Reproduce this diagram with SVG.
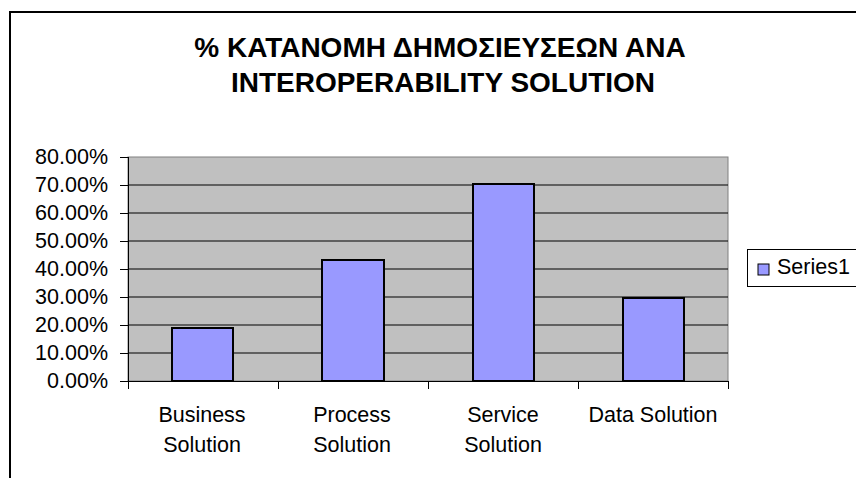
<svg xmlns="http://www.w3.org/2000/svg" width="856" height="478" viewBox="0 0 856 478">
<style>
text{font-family:"Liberation Sans",Arial,sans-serif;fill:#000}
.title{font-size:28px;font-weight:bold;text-anchor:middle}
.ylab{font-size:21.5px;text-anchor:end}
.xlab{font-size:21.5px;text-anchor:middle}
.grid{stroke:#000;stroke-width:1}
.bar{fill:#9999FF;stroke:#000;stroke-width:2}
.axis{stroke:#000;stroke-width:1;fill:none}
</style>
<rect x="0" y="0" width="856" height="478" fill="#fff"/>
<rect id="frame" x="10" y="12" width="860" height="480" fill="none" stroke="#000" stroke-width="2"/>
<g id="title">
<text class="title" x="440" y="57">% ΚΑΤΑΝΟΜΗ ΔΗΜΟΣΙΕΥΣΕΩΝ ΑΝΑ</text>
<text class="title" x="443" y="92">INTEROPERABILITY SOLUTION</text>
</g>
<g id="plot">
<rect x="128" y="157" width="600" height="224" fill="#C0C0C0" stroke="#808080" stroke-width="1"/>
<g class="grid">
<line x1="128" y1="185" x2="728" y2="185"/>
<line x1="128" y1="213" x2="728" y2="213"/>
<line x1="128" y1="241" x2="728" y2="241"/>
<line x1="128" y1="269" x2="728" y2="269"/>
<line x1="128" y1="297" x2="728" y2="297"/>
<line x1="128" y1="325" x2="728" y2="325"/>
<line x1="128" y1="353" x2="728" y2="353"/>
</g>
</g>
<g id="bars">
<rect id="bar-business" class="bar" x="172" y="328" width="61" height="53"/>
<rect id="bar-process" class="bar" x="322" y="260" width="62" height="121"/>
<rect id="bar-service" class="bar" x="473" y="184" width="61" height="197"/>
<rect id="bar-data" class="bar" x="623" y="298" width="61" height="83"/>
</g>
<g id="axes" class="axis">
<path d="M128.5 157V381.5H728"/>
<path d="M120 157.5H128M120 185.5H128M120 213.5H128M120 241.5H128M120 269.5H128M120 297.5H128M120 325.5H128M120 353.5H128M120 381.5H128"/>
<path d="M128.5 381V389M278.5 381V389M428.5 381V389M578.5 381V389M728.5 381V389"/>
</g>
<g id="ylabels">
<text class="ylab" x="108" y="164">80.00%</text>
<text class="ylab" x="108" y="192">70.00%</text>
<text class="ylab" x="108" y="220">60.00%</text>
<text class="ylab" x="108" y="248">50.00%</text>
<text class="ylab" x="108" y="276">40.00%</text>
<text class="ylab" x="108" y="304">30.00%</text>
<text class="ylab" x="108" y="332">20.00%</text>
<text class="ylab" x="108" y="360">10.00%</text>
<text class="ylab" x="108" y="388">0.00%</text>
</g>
<g id="xlabels">
<text class="xlab" x="202" y="422">Business</text>
<text class="xlab" x="202" y="452">Solution</text>
<text class="xlab" x="352" y="422">Process</text>
<text class="xlab" x="352" y="452">Solution</text>
<text class="xlab" x="503" y="422">Service</text>
<text class="xlab" x="503" y="452">Solution</text>
<text class="xlab" x="653" y="422">Data Solution</text>
</g>
<g id="legend">
<rect x="747.5" y="249.5" width="120" height="37" fill="#fff" stroke="#000" stroke-width="1"/>
<rect x="758" y="264" width="11" height="11" fill="#9999FF" stroke="#000" stroke-width="1"/>
<text x="777" y="274" style="font-size:21.5px">Series1</text>
</g>
</svg>
